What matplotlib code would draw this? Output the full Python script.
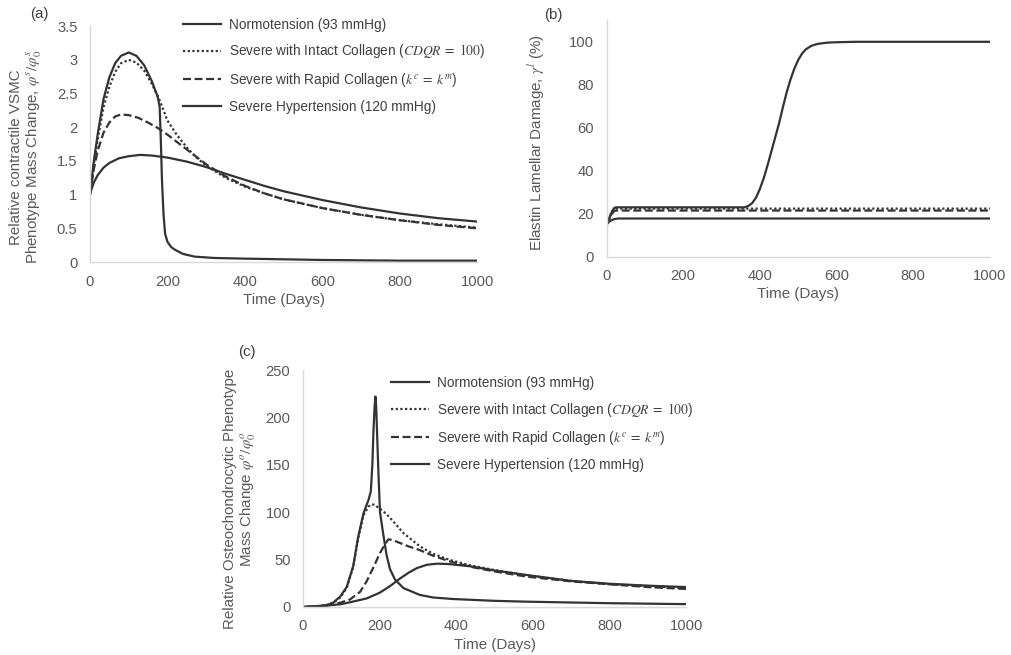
import matplotlib
matplotlib.use("Agg")
import matplotlib.pyplot as plt

plt.rcParams["font.family"] = ["Liberation Sans", "DejaVu Sans"]
plt.rcParams["mathtext.fontset"] = "stix"

# ---- data ----
series_names = ["Normotension (93 mmHg)",
                "Severe with Intact Collagen ($CDQR\\;=\\;100$)",
                "Severe with Rapid Collagen ($k^c\\;=\\;k^m$)",
                "Severe Hypertension (120 mmHg)"]

x_ticks = [0, 200, 400, 600, 800, 1000]

# (a) contractile VSMC mass change
a_yticks = [0, 0.5, 1, 1.5, 2, 2.5, 3, 3.5]
a_ytick_labels = ["0", "0.5", "1", "1.5", "2", "2.5", "3", "3.5"]
a_normo_x = [0, 5, 10, 20, 35, 50, 75, 100, 130, 160, 200, 250, 300, 350, 400, 450, 500,
             600, 700, 800, 900, 1000]
a_normo_y = [1.0, 1.1, 1.18, 1.29, 1.4, 1.47, 1.54, 1.57, 1.59, 1.58, 1.55, 1.49, 1.41,
             1.31, 1.22, 1.13, 1.05, 0.92, 0.81, 0.72, 0.65, 0.60]
a_intact_x = [0, 10, 20, 35, 50, 65, 80, 100, 120, 140, 160, 180, 200, 225, 250, 275,
              300, 350, 400, 450, 500, 600, 700, 800, 900, 1000]
a_intact_y = [1.0, 1.45, 1.82, 2.3, 2.6, 2.82, 2.95, 3.0, 2.96, 2.84, 2.64, 2.4, 2.1,
              1.88, 1.7, 1.55, 1.43, 1.25, 1.12, 1.02, 0.93, 0.8, 0.7, 0.62, 0.56, 0.51]
a_rapid_x = [0, 10, 20, 35, 50, 65, 80, 100, 125, 150, 175, 200, 250, 300, 350, 400,
             450, 500, 600, 700, 800, 900, 1000]
a_rapid_y = [1.0, 1.38, 1.65, 1.92, 2.07, 2.16, 2.19, 2.18, 2.14, 2.07, 1.99, 1.89,
             1.67, 1.45, 1.27, 1.13, 1.02, 0.93, 0.8, 0.7, 0.62, 0.55, 0.5]
a_severe_x = [0, 10, 20, 35, 50, 65, 80, 100, 120, 140, 160, 175, 180, 183, 186, 190,
              194, 200, 210, 220, 240, 270, 320, 400, 500, 600, 800, 1000]
a_severe_y = [1.0, 1.5, 1.9, 2.42, 2.74, 2.95, 3.06, 3.11, 3.06, 2.92, 2.68, 2.45, 2.3,
              1.8, 1.2, 0.7, 0.42, 0.3, 0.22, 0.18, 0.12, 0.08, 0.06, 0.05, 0.04, 0.03,
              0.02, 0.02]

# (b) elastin lamellar damage (%)
b_yticks = [0, 20, 40, 60, 80, 100]
b_normo_x = [0, 5, 10, 15, 20, 30, 40, 1000]
b_normo_y = [15.0, 16.0, 16.7, 17.2, 17.5, 17.8, 17.8, 17.8]
b_intact_x = [0, 5, 10, 15, 20, 25, 1000]
b_intact_y = [15.0, 17.0, 19.0, 21.0, 22.2, 22.4, 22.4]
b_rapid_x = [0, 5, 10, 15, 20, 25, 1000]
b_rapid_y = [15.0, 16.8, 18.6, 20.2, 21.3, 21.5, 21.5]
b_severe_x = [0, 5, 10, 15, 20, 25, 360, 370, 380, 390, 400, 410, 420, 430, 440, 450,
              460, 470, 480, 490, 500, 510, 520, 535, 550, 575, 600, 650, 1000]
b_severe_y = [15.0, 17.2, 19.4, 21.4, 22.7, 23.0, 23.0, 23.6, 25.0, 27.5, 31.5, 36.5,
              42.5, 49.0, 55.5, 62.0, 69.5, 76.5, 82.5, 87.5, 91.5, 94.5, 96.5, 98.2,
              99.0, 99.6, 99.8, 100.0, 100.0]

# (c) osteochondrocytic mass change
c_yticks = [0, 50, 100, 150, 200, 250]
c_normo_x = [0, 50, 100, 123, 166, 200, 227, 240, 253, 275, 297, 323, 350, 380, 436,
             500, 584, 700, 800, 900, 1000]
c_normo_y = [0, 1, 3, 5, 9, 15, 22, 26, 30, 36, 41, 44.5, 45.7, 45.3, 43, 38.5, 33.7,
             27.5, 24.5, 22.5, 21]
c_intact_x = [0, 40, 62, 79, 97, 114, 131, 144, 158, 171, 178, 185, 200, 218, 236, 262,
              305, 340, 384, 436, 500, 584, 700, 800, 900, 1000]
c_intact_y = [0, 1, 2, 4.5, 10, 20, 42, 72, 97, 106, 108, 108, 104, 98, 90, 78, 64, 56,
              49.5, 44, 39, 33.5, 27.5, 24, 22, 20]
c_rapid_x = [0, 40, 60, 80, 97, 123, 149, 166, 184, 201, 215, 223, 235, 250, 275, 305,
             340, 384, 436, 500, 584, 700, 800, 900, 1000]
c_rapid_y = [0, 0.5, 1.5, 3, 4.5, 8, 16, 27, 42, 57, 67, 71.4, 70.5, 68, 64, 60, 54,
             48, 42.5, 37.5, 32, 27, 24, 21, 19]
c_severe_x = [0, 40, 62, 79, 97, 114, 131, 144, 158, 171, 177, 181, 184, 187, 189, 191,
              194, 197, 201, 209, 218, 227, 240, 262, 305, 340, 392, 500, 584, 800, 1000]
c_severe_y = [0, 1, 2, 4.6, 11, 21, 43, 74, 99, 113, 122, 150, 187, 212, 222, 212, 175,
              140, 100, 78, 55, 40, 29, 20, 12.7, 10, 8.4, 6.5, 5.6, 4, 3]

# ---- styling ----
line_col = "#333333"
grey = "#595959"
spine_col = "#d9d9d9"
lw = 1.6
styles = ["-", (0, (1, 1.1)), (0, (3.6, 1.6)), "-"]

fig = plt.figure(figsize=(10.11, 6.55), dpi=100)
ax_a = fig.add_axes([0.089, 0.600, 0.383, 0.360])
ax_b = fig.add_axes([0.600, 0.608, 0.379, 0.361])
ax_c = fig.add_axes([0.2997, 0.0733, 0.379, 0.3618])


def style_axes(ax, ylim, yticks, ylabels):
    ax.set_xlim(0, 1000)
    ax.set_ylim(*ylim)
    ax.set_xticks(x_ticks)
    ax.set_yticks(yticks)
    ax.set_yticklabels(ylabels)
    for s in ["top", "right"]:
        ax.spines[s].set_visible(False)
    for s in ["left", "bottom"]:
        ax.spines[s].set_color(spine_col)
        ax.spines[s].set_linewidth(1.0)
    ax.tick_params(length=0, labelsize=10.6, colors=grey, pad=9)
    ax.set_xlabel("Time (Days)", fontsize=10.9, color=grey, labelpad=3)


# panel (a)
a_data = [(a_normo_x, a_normo_y), (a_intact_x, a_intact_y),
          (a_rapid_x, a_rapid_y), (a_severe_x, a_severe_y)]
handles = []
for (xs, ys), ls, name in zip(a_data, styles, series_names):
    h, = ax_a.plot(xs, ys, color=line_col, lw=lw, ls=ls, label=name)
    handles.append(h)
style_axes(ax_a, (0, 3.5), a_yticks, a_ytick_labels)
ax_a.set_ylabel("Relative contractile VSMC\nPhenotype Mass Change, $\\varphi^s/\\varphi_0^s$",
                fontsize=10.9, color=grey, linespacing=1.15)
ax_a.yaxis.set_label_coords(-0.118, 0.445)

leg_kw = dict(frameon=False, loc="upper left", fontsize=9.8, handlelength=2.8,
              handletextpad=0.55, labelspacing=0.78, borderpad=0, borderaxespad=0,
              labelcolor="#404040")
fig.legend(handles=handles, bbox_to_anchor=(0.181, 0.973), **leg_kw)

# panel (b)
b_data = [(b_normo_x, b_normo_y), (b_intact_x, b_intact_y),
          (b_rapid_x, b_rapid_y), (b_severe_x, b_severe_y)]
for (xs, ys), ls in zip(b_data, styles):
    ax_b.plot(xs, ys, color=line_col, lw=lw, ls=ls)
style_axes(ax_b, (0, 110), b_yticks, [str(v) for v in b_yticks])
ax_b.set_ylabel("Elastin Lamellar Damage, $\\gamma^l$ (%)", fontsize=10.9, color=grey)
ax_b.yaxis.set_label_coords(-0.159, 0.482)

# panel (c)
c_data = [(c_normo_x, c_normo_y), (c_intact_x, c_intact_y),
          (c_rapid_x, c_rapid_y), (c_severe_x, c_severe_y)]
handles_c = []
for (xs, ys), ls, name in zip(c_data, styles, series_names):
    h, = ax_c.plot(xs, ys, color=line_col, lw=lw, ls=ls, label=name)
    handles_c.append(h)
style_axes(ax_c, (0, 250), c_yticks, [str(v) for v in c_yticks])
ax_c.set_ylabel("Relative Osteochondrocytic Phenotype\nMass Change $\\varphi^o/\\varphi_0^o$",
                fontsize=10.9, color=grey, linespacing=1.15)
ax_c.yaxis.set_label_coords(-0.117, 0.456)
fig.legend(handles=handles_c, bbox_to_anchor=(0.3867, 0.426), **leg_kw)

# panel letters
for txt, x, y in [("(a)", 39, 14), ("(b)", 553, 15), ("(c)", 247, 352)]:
    fig.text(x / 1011, 1 - y / 655, txt, fontsize=10.9, color="#404040",
             ha="center", va="center")

fig.savefig("out.png", dpi=100)
